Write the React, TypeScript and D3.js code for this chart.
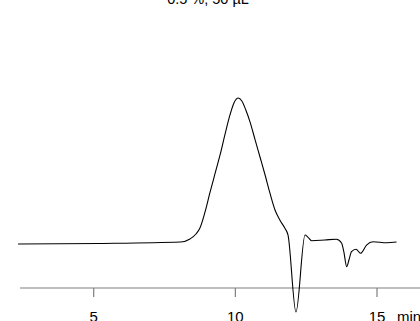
import { useEffect, useRef } from "react";
import * as d3 from "d3";

// retention time (min)
const times = [
  2.33, 5.22, 8.06, 8.4, 8.61, 8.75, 8.93, 9.1, 9.28, 9.46, 9.63, 9.81, 9.95,
  10.1, 10.23, 10.37, 10.52, 10.69, 10.87, 11.05, 11.22, 11.4, 11.57, 11.75,
  11.86, 12.14, 12.46, 12.56, 12.69, 13.16, 13.57, 13.75, 13.83, 13.93, 14.01,
  14.1, 14.26, 14.42, 14.63, 14.86, 15.34, 15.69,
];
// detector signal (relative)
const signal = [
  -0.7, -0.3, 0.7, 2.8, 6.2, 10.3, 21.4, 34.5, 47.6, 60.7, 74.5, 88.3, 96.6,
  100, 97.9, 91.7, 83.4, 71.7, 59.3, 46.9, 34.5, 22.8, 15.9, 10.1, 5.5, -47.6,
  5.5, 4.1, 1.6, 2.1, 2.6, 0, -6.2, -16.3, -11.7, -6.0, -4.3, -7.1, -1.4, 0.9,
  0.2, 0.7,
];
const tickValues = [5, 10, 15];
const axisStart = 2.4;
const title = "0.5 %, 50 µL";

export default function App() {
  const svgRef = useRef<SVGSVGElement>(null);

  useEffect(() => {
    if (!svgRef.current) return;
    const svg = d3.select(svgRef.current);
    svg.selectAll("*").remove();

    const width = 420;
    const axisY = 288;
    const font = "Liberation Sans, Arial, sans-serif";

    const x = d3.scaleLinear().domain([5, 15]).range([93.7, 377]);
    const y = d3.scaleLinear().domain([0, 100]).range([243, 98]);

    const pts = times.map((t, i) => [t, signal[i]] as [number, number]);

    // Title (cut off at the top edge, as in the original)
    svg
      .append("text")
      .attr("x", 208)
      .attr("y", 4)
      .attr("text-anchor", "middle")
      .style("font-family", font)
      .style("font-size", "14.5px")
      .text(title);

    // Axis
    const axis = svg.append("g").attr("transform", `translate(0,${axisY})`);
    axis
      .append("line")
      .attr("x1", x(axisStart))
      .attr("x2", width)
      .attr("stroke", "#7f7f7f")
      .attr("stroke-width", 1.2);
    axis
      .selectAll("line.tick")
      .data(tickValues)
      .enter()
      .append("line")
      .attr("class", "tick")
      .attr("x1", (d) => x(d))
      .attr("x2", (d) => x(d))
      .attr("y1", 0)
      .attr("y2", 9)
      .attr("stroke", "#7f7f7f")
      .attr("stroke-width", 1.2);
    axis
      .selectAll("text.lbl")
      .data(tickValues)
      .enter()
      .append("text")
      .attr("class", "lbl")
      .attr("x", (d) => x(d))
      .attr("y", 34)
      .attr("text-anchor", "middle")
      .style("font-family", font)
      .style("font-size", "15px")
      .text((d) => String(d));
    axis
      .append("text")
      .attr("x", 397)
      .attr("y", 34)
      .style("font-family", font)
      .style("font-size", "15px")
      .text("min");

    // Trace
    svg
      .append("path")
      .datum(pts)
      .attr("fill", "none")
      .attr("stroke", "#000")
      .attr("stroke-width", 1.1)
      .attr(
        "d",
        d3
          .line<[number, number]>()
          .x((d) => x(d[0]))
          .y((d) => y(d[1]))
          .curve(d3.curveMonotoneX)
      );
  }, []);

  return (
    <svg
      ref={svgRef}
      width={420}
      height={321}
      style={{ position: "absolute", left: 0, top: 0, background: "#fff" }}
    />
  );
}
